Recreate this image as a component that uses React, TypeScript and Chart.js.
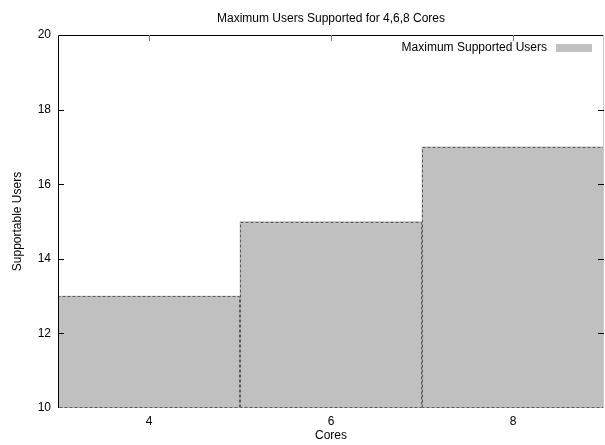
import React, { useEffect, useRef } from 'react';
import { Chart, registerables } from 'chart.js';

Chart.register(...registerables);

const categories = ['4', '6', '8'];
const maxUsers = [13, 15, 17];
const seriesLabel = 'Maximum Supported Users';
const yMin = 10;
const yMax = 20;
const yStep = 2;
const titleText = 'Maximum Users Supported for 4,6,8 Cores';
const xTitle = 'Cores';
const yTitle = 'Supportable Users';

const FONT_FAMILY = '"Liberation Sans", Arial, Helvetica, sans-serif';
const BAR_FILL = '#c0c0c0';
const BAR_EDGE = '#5a5a5a';

const framePlugin = {
  id: 'gnuplotFrame',
  afterDraw(chart: any) {
    const { ctx, chartArea } = chart;
    const { left, right, top, bottom } = chartArea;
    ctx.save();

    // dashed outlines of bars
    const meta = chart.getDatasetMeta(0);
    ctx.strokeStyle = BAR_EDGE;
    ctx.lineWidth = 1;
    ctx.setLineDash([3, 2]);
    meta.data.forEach((el: any) => {
      const p = el.getProps(['x', 'y', 'base', 'width'], true);
      const l = Math.round(p.x - p.width / 2) + 0.5;
      const r = Math.round(p.x + p.width / 2) - 0.5;
      const t = Math.round(p.y) + 0.5;
      const b = Math.round(Math.min(p.base, bottom)) - 0.5;
      ctx.beginPath();
      ctx.moveTo(l, b);
      ctx.lineTo(l, t);
      ctx.lineTo(r, t);
      ctx.lineTo(r, b);
      ctx.lineTo(l, b);
      ctx.stroke();
    });
    ctx.setLineDash([]);

    // border: left (black), top (black), right (light)
    ctx.strokeStyle = '#000';
    ctx.beginPath();
    ctx.moveTo(left + 0.5, bottom);
    ctx.lineTo(left + 0.5, top + 0.5);
    ctx.lineTo(right, top + 0.5);
    ctx.stroke();
    ctx.strokeStyle = '#c8c8c8';
    ctx.beginPath();
    ctx.moveTo(right - 0.5, top);
    ctx.lineTo(right - 0.5, bottom);
    ctx.stroke();

    // inner y ticks on left and right
    const yScale = chart.scales.y;
    ctx.strokeStyle = '#000';
    yScale.ticks.forEach((t: any) => {
      if (t.value <= yMin || t.value >= yMax) return;
      const y = Math.round(yScale.getPixelForValue(t.value)) + 0.5;
      ctx.beginPath();
      ctx.moveTo(left, y);
      ctx.lineTo(left + 6, y);
      ctx.moveTo(right - 6, y);
      ctx.lineTo(right, y);
      ctx.stroke();
    });

    // mirrored x ticks on top
    const xScale = chart.scales.x;
    ctx.strokeStyle = '#777';
    categories.forEach((_c, i) => {
      const x = Math.round(xScale.getPixelForValue(i)) + 0.5;
      ctx.beginPath();
      ctx.moveTo(x, top);
      ctx.lineTo(x, top + 6);
      ctx.stroke();
    });

    // gnuplot-style key: text then sample box, top right
    ctx.font = `12px ${FONT_FAMILY}`;
    ctx.fillStyle = '#000';
    ctx.textAlign = 'right';
    ctx.textBaseline = 'middle';
    const ky = top + 13;
    ctx.fillText(seriesLabel, right - 57, ky);
    ctx.fillStyle = BAR_FILL;
    ctx.fillRect(right - 48, ky - 4, 36, 8);

    ctx.restore();
  },
};

export default function App() {
  const canvasRef = useRef<HTMLCanvasElement | null>(null);

  useEffect(() => {
    const canvas = canvasRef.current;
    if (!canvas) return;
    const chart = new Chart(canvas, {
      type: 'bar',
      data: {
        labels: categories,
        datasets: [
          {
            label: seriesLabel,
            data: maxUsers,
            backgroundColor: BAR_FILL,
            borderWidth: 0,
            categoryPercentage: 1,
            barPercentage: 1,
          },
        ],
      },
      options: {
        responsive: false,
        animation: false,
        events: [],
        layout: { padding: { left: 0, right: 1, top: 0, bottom: 0 } },
        plugins: {
          legend: { display: false },
          tooltip: { enabled: false },
          title: {
            display: true,
            text: titleText,
            fullSize: false,
            color: '#000',
            font: { family: FONT_FAMILY, size: 12, weight: 'normal' },
            padding: { top: 11, bottom: 9.6 },
          },
        },
        scales: {
          x: {
            type: 'category',
            grid: { display: false, drawTicks: false },
            border: { display: false },
            ticks: {
              color: '#000',
              padding: 6,
              font: { family: FONT_FAMILY, size: 12 },
            },
            title: {
              display: true,
              text: xTitle,
              color: '#000',
              font: { family: FONT_FAMILY, size: 12 },
              padding: { top: 0, bottom: 2 },
            },
            afterFit(scale: any) {
              scale.height = 37;
            },
          },
          y: {
            min: yMin,
            max: yMax,
            grid: { display: false, drawTicks: false },
            border: { display: false },
            ticks: {
              stepSize: yStep,
              color: '#000',
              padding: 7,
              font: { family: FONT_FAMILY, size: 12 },
            },
            title: {
              display: true,
              text: yTitle,
              color: '#000',
              font: { family: FONT_FAMILY, size: 12 },
              padding: { top: 10, bottom: 0 },
            },
            afterFit(scale: any) {
              scale.width = 58;
            },
          },
        },
      },
      plugins: [framePlugin],
    });
    return () => chart.destroy();
  }, []);

  return (
    <div style={{ position: 'fixed', left: 0, top: 0, width: 605, height: 445, background: '#fff' }}>
      <canvas ref={canvasRef} width={605} height={445} style={{ display: 'block' }} />
    </div>
  );
}
